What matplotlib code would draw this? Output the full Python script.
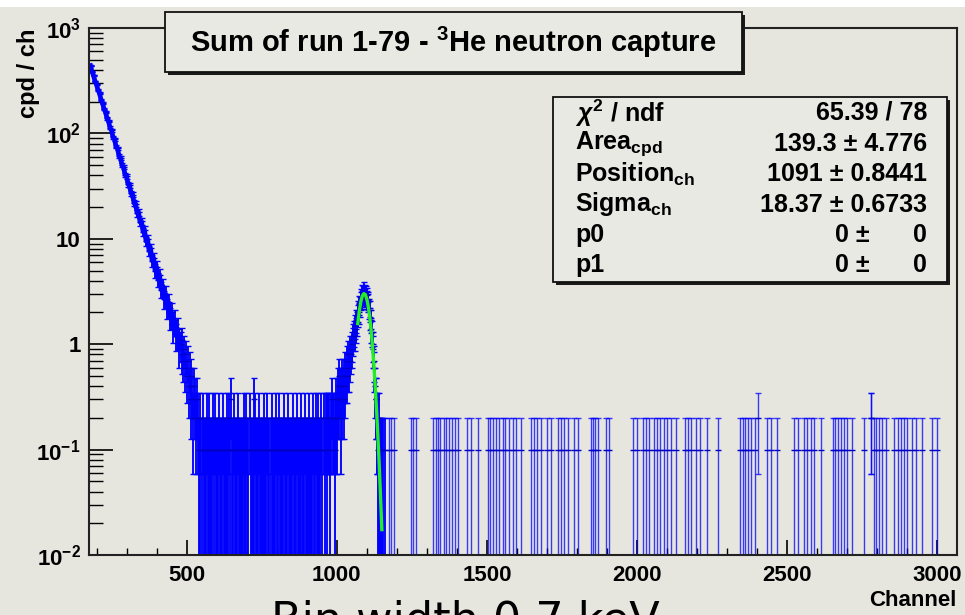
import numpy as np
import matplotlib
matplotlib.use("Agg")
import matplotlib.pyplot as plt
from matplotlib.patches import Rectangle
from matplotlib.ticker import FixedLocator, MultipleLocator, LogLocator, NullFormatter

W, H = 965, 615
BG = "#e6e6df"
BLUE = "#0000ff"

# one count in a channel = 0.1 cpd / ch
COUNT_SCALE = 0.1

# steep low-energy part, cpd/ch read every 5 channels from ch 180
steep_start, steep_step = 180, 5
steep_vals = [440, 385, 356, 312, 292, 258, 240, 209, 195, 170,
              160, 139, 131, 113, 107, 92, 88, 75, 72, 61,
              58.5, 49.8, 48, 40.5, 39.2, 33, 32.1, 27, 26.3, 21.8,
              21.5, 17.6, 17.8, 14.4, 14.6, 11.7, 12.0, 9.5, 9.9, 7.7,
              8.1, 6.2, 6.6, 5.0, 5.4, 4.1, 4.5, 3.3, 3.6, 2.7,
              3.0, 2.2, 2.5, 1.8, 2.0, 1.4, 1.7, 1.2, 1.4, 0.9]

# low-count plateau, counts every 3 channels from ch 480
noise_start, noise_step = 480, 3
noise_counts = [10, 8, 11, 7, 9, 6, 8, 5, 7, 4, 6, 3, 5, 4, 2, 4, 3, 2, 3,
                2, 1, 1, 2, 0, 1, 2, 1, 1, 1, 2,
                1, 2, 1, 1, 1, 1, 2, 1, 2, 1, 1,
                1, 0, 2, 1, 1, 1, 2, 1, 1, 1, 2,
                1, 1, 2, 1, 3, 1, 1, 2, 1, 1, 1,
                1, 2, 1, 1, 1, 1, 1, 2, 1, 1, 2,
                1, 1, 0, 2, 1, 1, 1, 3, 1, 2, 1,
                1, 1, 2, 1, 1, 1, 1, 1, 2, 1, 1,
                2, 1, 1, 0, 1, 2, 1, 1, 1, 1, 2,
                1, 1, 2, 1, 1, 1, 1, 1, 2, 1, 1,
                1, 2, 1, 1, 0, 1, 1, 2, 1, 1, 1,
                2, 1, 1, 1, 1, 2, 1, 1, 1, 2, 1,
                1, 1, 2, 1, 1, 1, 1, 2, 1, 1, 2,
                1, 2, 1, 1, 1, 2, 1, 0, 2, 1, 2,
                2, 1, 2, 2, 1, 2, 3, 2, 2, 1, 2]

# neutron capture peak, counts every 2 channels from ch 999
peak_start, peak_step = 999, 2
peak_counts = [3, 2, 4, 3, 5, 3, 4, 2, 4, 5, 3,
               4, 5, 3, 6, 4, 5, 7, 5, 6, 8, 6,
               7, 9, 8, 10, 9, 12, 11, 13, 12, 15, 14,
               17, 16, 19, 21, 20, 24, 23, 26, 28, 27, 31,
               30, 33, 29, 31, 28, 30, 27, 29, 25, 26, 22,
               21, 18, 17, 14, 13, 10, 9, 7, 6, 4, 3,
               3, 2, 2, 1, 2, 1, 0, 1, 1, 0, 1,
               0, 1, 0, 1]

# isolated channels above the peak
single_ch = [1173, 1182, 1190, 1246, 1255, 1263, 1322, 1330, 1338, 1345, 1356,
             1364, 1372, 1383, 1392, 1405, 1435, 1447, 1469, 1502, 1510, 1521,
             1530, 1541, 1552, 1560, 1575, 1586, 1598, 1612, 1645, 1655, 1668,
             1680, 1700, 1712, 1738, 1746, 1755, 1770, 1790, 1802, 1845, 1852,
             1860, 1870, 1895, 1905, 1985, 2001, 2018, 2030, 2038, 2055, 2066,
             2075, 2088, 2100, 2112, 2128, 2161, 2170, 2180, 2195, 2210, 2234,
             2268, 2344, 2352, 2360, 2368, 2380, 2392, 2434, 2447, 2467, 2521,
             2534, 2554, 2566, 2578, 2590, 2611, 2651, 2660, 2670, 2680, 2690,
             2700, 2717, 2754, 2787, 2795, 2805, 2815, 2830, 2854, 2870, 2880,
             2890, 2900, 2915, 2930, 2950, 2983, 3000]
double_ch = [2404, 2777, 2780]

# gaussian fit curve (green)
fit_ch = [1070, 1075, 1080, 1085, 1090, 1095, 1100, 1105, 1110,
          1115, 1120, 1125, 1130, 1135, 1140, 1145, 1150]
fit_vals = [1.57, 2.07, 2.53, 2.87, 3.02, 2.96, 2.68, 2.26, 1.77,
            1.29, 0.871, 0.546, 0.318, 0.172, 0.0864, 0.0402, 0.0174]

x_ticks = [500, 1000, 1500, 2000, 2500, 3000]
y_ticks = [1e-2, 1e-1, 1, 10, 1e2, 1e3]
y_tick_labels = [r"$10^{-2}$", r"$10^{-1}$", "1", "10", r"$10^{2}$", r"$10^{3}$"]

stats_labels = [r"$\chi^{2}$ / ndf", r"Area$_{\mathrm{cpd}}$", r"Position$_{\mathrm{ch}}$",
                r"Sigma$_{\mathrm{ch}}$", "p0", "p1"]
stats_values = ["65.39 / 78", "139.3 \u00b1 4.776", "1091 \u00b1 0.8441",
                "18.37 \u00b1 0.6733", None, None]

title = r"Sum of run 1-79 - $^{3}$He neutron capture"

plt.rcParams["font.family"] = ["Liberation Sans", "DejaVu Sans"]
plt.rcParams["font.weight"] = "bold"
plt.rcParams["mathtext.fontset"] = "custom"
plt.rcParams["mathtext.rm"] = "Liberation Sans:bold"
plt.rcParams["mathtext.it"] = "Liberation Sans:italic:bold"
plt.rcParams["mathtext.bf"] = "Liberation Sans:bold"


def fx(px):
    return px / W


def fy(py):
    return 1 - py / H


def hist_points(chs, vals):
    chs, vals = np.asarray(chs, float), np.asarray(vals, float)
    keep = vals > 0
    chs, vals = chs[keep], vals[keep]
    err = np.sqrt(vals * COUNT_SCALE)
    lo = vals - np.maximum(vals - err, 1e-4)
    return chs, vals, lo, err


fig = plt.figure(figsize=(W / 100, H / 100), dpi=100, facecolor=BG)
fig.add_artist(Rectangle((0, fy(7)), 1, 7 / H, transform=fig.transFigure,
                         facecolor="white", edgecolor="none", zorder=0))

ax = fig.add_axes([fx(89), fy(555), (957 - 89) / W, (555 - 28) / H])
ax.set_facecolor(BG)

steep_ch = steep_start + steep_step * np.arange(len(steep_vals))
noise_ch = noise_start + noise_step * np.arange(len(noise_counts))
peak_ch = peak_start + peak_step * np.arange(len(peak_counts))

# dense part: steep tail, plateau and peak
dense_ch = np.concatenate([steep_ch, noise_ch, peak_ch])
dense_val = np.concatenate([np.array(steep_vals, float),
                            np.array(noise_counts) * COUNT_SCALE,
                            np.array(peak_counts) * COUNT_SCALE])
c, v, lo, hi = hist_points(dense_ch, dense_val)
ax.errorbar(c, v, yerr=[lo, hi], fmt="none", ecolor=BLUE, elinewidth=1.35,
            capsize=2.0, capthick=1.0, zorder=2)
ax.plot(c, v, ls="none", marker="_", ms=4, mew=1.0, color="#0000c8", zorder=2)

# sparse part
sparse_ch = np.concatenate([single_ch, double_ch])
sparse_val = np.concatenate([np.ones(len(single_ch)), np.full(len(double_ch), 2)]) * COUNT_SCALE
c, v, lo, hi = hist_points(sparse_ch, sparse_val)
ax.errorbar(c, v, yerr=[lo, hi], fmt="none", ecolor=BLUE, elinewidth=1.0,
            capsize=2.2, capthick=1.0, alpha=0.75, zorder=2)
ax.plot(c, v, ls="none", marker="_", ms=4, mew=1.0, color="#0000c8", zorder=2)

ax.plot(steep_ch, steep_vals, color=BLUE, lw=3.4, zorder=2)
ax.plot(fit_ch, fit_vals, color="#22ee22", lw=2.4, zorder=5)

ax.set_yscale("log")
ax.set_xlim(175, 3065)
ax.set_ylim(1e-2, 1e3)

ax.xaxis.set_major_locator(FixedLocator(x_ticks))
ax.xaxis.set_minor_locator(MultipleLocator(100))
ax.set_yticks(y_ticks, y_tick_labels)
ax.yaxis.set_minor_locator(LogLocator(base=10, subs=np.arange(2, 10)))
ax.yaxis.set_minor_formatter(NullFormatter())

ax.tick_params(axis="x", which="major", direction="in", length=11, width=1.2,
               labelsize=16, pad=7, top=False)
ax.tick_params(axis="x", which="minor", direction="in", length=5, width=1.0, top=False)
ax.tick_params(axis="y", which="major", direction="in", length=17, width=1.2,
               labelsize=16, pad=6, right=False)
ax.tick_params(axis="y", which="minor", direction="in", length=10, width=1.0, right=False)
for s in ax.spines.values():
    s.set_linewidth(1.5)
    s.set_color("#222222")

fig.text(fx(28), fy(28), "cpd / ch", rotation=90, ha="center", va="top", fontsize=17)
fig.text(fx(957), fy(600), "Channel", ha="right", va="center", fontsize=16)


def pave(x0, y0, x1, y1):
    fig.add_artist(Rectangle((fx(x0 + 3), fy(y1 + 3)), (x1 - x0) / W, (y1 - y0) / H,
                             transform=fig.transFigure, facecolor="#1a1a1a",
                             edgecolor="none", zorder=3))
    fig.add_artist(Rectangle((fx(x0), fy(y1)), (x1 - x0) / W, (y1 - y0) / H,
                             transform=fig.transFigure, facecolor="#e9e9e3",
                             edgecolor="#111111", lw=1.3, zorder=3.1))


pave(165, 12, 742, 72)
fig.text(fx(453), fy(42), title, ha="center", va="center", fontsize=21, zorder=4)

pave(553, 97, 947, 282)
row_y = [113, 143.5, 174, 204.5, 235, 265.5]
for lab, val, yy in zip(stats_labels, stats_values, row_y):
    fig.text(fx(575), fy(yy), lab, ha="left", va="center", fontsize=18, zorder=4)
    if val is None:
        fig.text(fx(870), fy(yy), "0 \u00b1", ha="right", va="center", fontsize=18, zorder=4)
        fig.text(fx(927), fy(yy), "0", ha="right", va="center", fontsize=18, zorder=4)
    else:
        fig.text(fx(927), fy(yy), val, ha="right", va="center", fontsize=18, zorder=4)

fig.text(fx(271), fy(600), "Bin width 0.7 keV", ha="left", va="top",
         fontsize=32, fontweight="normal", family="DejaVu Sans")

fig.savefig("out.png", dpi=100, facecolor=BG)
